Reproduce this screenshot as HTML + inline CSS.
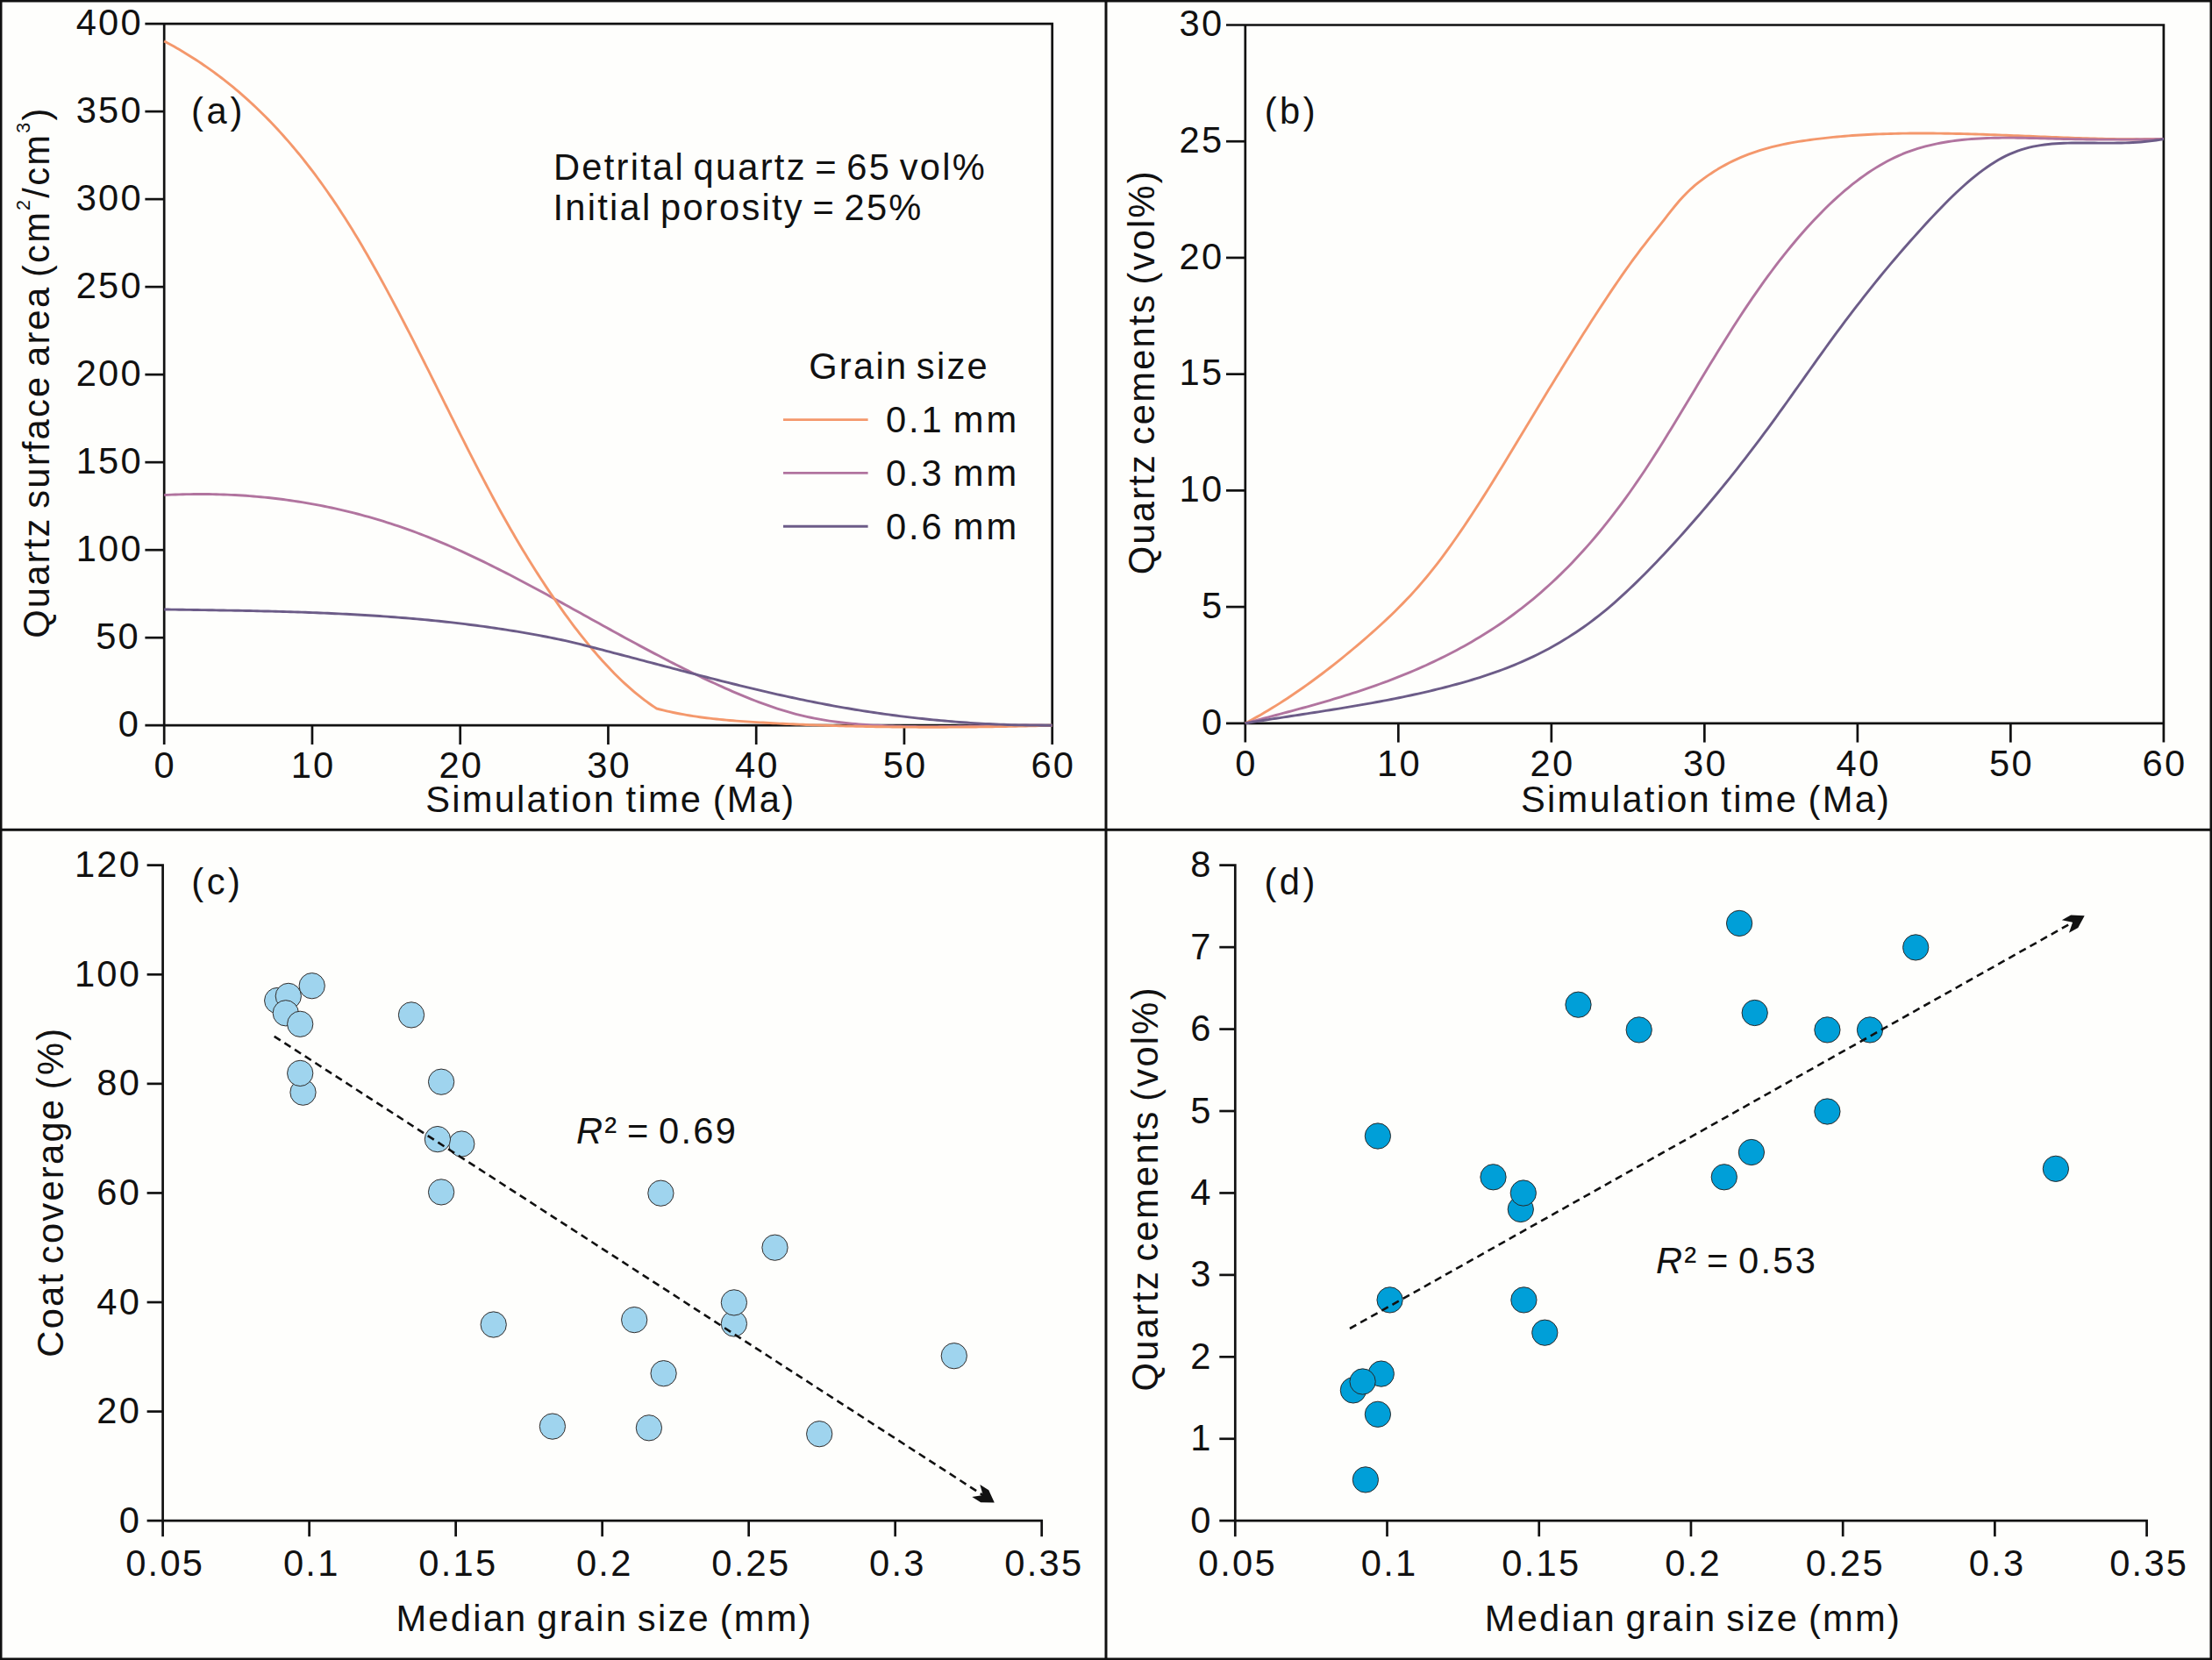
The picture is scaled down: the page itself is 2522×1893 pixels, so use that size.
<!DOCTYPE html>
<html lang="en"><head><meta charset="utf-8"><title>Quartz cementation vs grain size</title>
<style>html,body{margin:0;padding:0;background:#fefefc;}svg{display:block;}text{font-family:'Liberation Sans', Arial, Helvetica, sans-serif;fill:#111111;word-spacing:-4.3px;}</style>
</head><body>
<svg width="2522" height="1893" viewBox="0 0 2522 1893">
<rect x="0" y="0" width="2522" height="1893" fill="#fefefc"/>
<path d="M165.4 27.1 H1199.7 V849" fill="none" stroke="#111111" stroke-width="2.7"/>
<path d="M187.2 27.1 V849" fill="none" stroke="#111111" stroke-width="2.7"/>
<path d="M165.4 827.2 H1199.7" fill="none" stroke="#111111" stroke-width="2.7"/>
<line x1="165.4" y1="727.19" x2="187.2" y2="727.19" stroke="#111111" stroke-width="2.7" />
<line x1="165.4" y1="627.18" x2="187.2" y2="627.18" stroke="#111111" stroke-width="2.7" />
<line x1="165.4" y1="527.16" x2="187.2" y2="527.16" stroke="#111111" stroke-width="2.7" />
<line x1="165.4" y1="427.15" x2="187.2" y2="427.15" stroke="#111111" stroke-width="2.7" />
<line x1="165.4" y1="327.14" x2="187.2" y2="327.14" stroke="#111111" stroke-width="2.7" />
<line x1="165.4" y1="227.12" x2="187.2" y2="227.12" stroke="#111111" stroke-width="2.7" />
<line x1="165.4" y1="127.11" x2="187.2" y2="127.11" stroke="#111111" stroke-width="2.7" />
<line x1="355.95" y1="827.2" x2="355.95" y2="849" stroke="#111111" stroke-width="2.7" />
<line x1="524.7" y1="827.2" x2="524.7" y2="849" stroke="#111111" stroke-width="2.7" />
<line x1="693.45" y1="827.2" x2="693.45" y2="849" stroke="#111111" stroke-width="2.7" />
<line x1="862.2" y1="827.2" x2="862.2" y2="849" stroke="#111111" stroke-width="2.7" />
<line x1="1030.95" y1="827.2" x2="1030.95" y2="849" stroke="#111111" stroke-width="2.7" />
<path d="M187.2 564.57 L191.44 564.36 L195.67 564.17 L199.91 564.01 L204.15 563.87 L208.38 563.75 L212.62 563.66 L216.85 563.59 L221.09 563.54 L225.33 563.51 L229.56 563.51 L233.8 563.53 L238.04 563.57 L242.27 563.64 L246.51 563.73 L250.75 563.84 L254.98 563.98 L259.22 564.14 L263.46 564.33 L267.69 564.54 L271.93 564.77 L276.16 565.03 L280.4 565.31 L284.64 565.62 L288.87 565.96 L293.11 566.32 L297.35 566.7 L301.58 567.11 L305.82 567.55 L310.06 568.01 L314.29 568.49 L318.53 569.01 L322.76 569.55 L327 570.11 L331.24 570.7 L335.47 571.32 L339.71 571.97 L343.95 572.64 L348.18 573.34 L352.42 574.06 L356.66 574.81 L360.89 575.59 L365.13 576.4 L369.37 577.24 L373.6 578.1 L377.84 578.99 L382.07 579.91 L386.31 580.86 L390.55 581.83 L394.78 582.84 L399.02 583.87 L403.26 584.93 L407.49 586.02 L411.73 587.14 L415.97 588.29 L420.2 589.47 L424.44 590.67 L428.67 591.91 L432.91 593.17 L437.15 594.47 L441.38 595.8 L445.62 597.15 L449.86 598.54 L454.09 599.96 L458.33 601.4 L462.57 602.88 L466.8 604.39 L471.04 605.93 L475.28 607.5 L479.51 609.1 L483.75 610.73 L487.98 612.4 L492.22 614.09 L496.46 615.82 L500.69 617.57 L504.93 619.36 L509.17 621.17 L513.4 623.01 L517.64 624.87 L521.88 626.76 L526.11 628.68 L530.35 630.62 L534.58 632.59 L538.82 634.57 L543.06 636.58 L547.29 638.62 L551.53 640.67 L555.77 642.74 L560 644.83 L564.24 646.95 L568.48 649.08 L572.71 651.22 L576.95 653.39 L581.19 655.57 L585.42 657.76 L589.66 659.97 L593.89 662.19 L598.13 664.43 L602.37 666.68 L606.6 668.94 L610.84 671.21 L615.08 673.5 L619.31 675.79 L623.55 678.09 L627.79 680.4 L632.02 682.72 L636.26 685.04 L640.49 687.37 L644.73 689.71 L648.97 692.05 L653.2 694.4 L657.44 696.74 L661.68 699.09 L665.91 701.44 L670.15 703.79 L674.39 706.15 L678.62 708.5 L682.86 710.85 L687.1 713.19 L691.33 715.54 L695.57 717.88 L699.8 720.21 L704.04 722.54 L708.28 724.86 L712.51 727.18 L716.75 729.49 L720.99 731.79 L725.22 734.08 L729.46 736.36 L733.7 738.63 L737.93 740.89 L742.17 743.13 L746.41 745.37 L750.64 747.59 L754.88 749.8 L759.11 751.99 L763.35 754.17 L767.59 756.34 L771.82 758.49 L776.06 760.62 L780.3 762.74 L784.53 764.85 L788.77 766.93 L793.01 769 L797.24 771.04 L801.48 773.07 L805.71 775.09 L809.95 777.08 L814.19 779.05 L818.42 781 L822.66 782.92 L826.9 784.83 L831.13 786.7 L835.37 788.55 L839.61 790.38 L843.84 792.17 L848.08 793.92 L852.32 795.65 L856.55 797.34 L860.79 798.99 L865.02 800.61 L869.26 802.18 L873.5 803.71 L877.73 805.2 L881.97 806.65 L886.21 808.05 L890.44 809.39 L894.68 810.69 L898.92 811.94 L903.15 813.14 L907.39 814.28 L911.62 815.37 L915.86 816.39 L920.1 817.36 L924.33 818.27 L928.57 819.13 L932.81 819.94 L937.04 820.69 L941.28 821.4 L945.52 822.06 L949.75 822.67 L953.99 823.25 L958.23 823.78 L962.46 824.27 L966.7 824.73 L970.93 825.16 L975.17 825.55 L979.41 825.91 L983.64 826.24 L987.88 826.55 L992.12 826.83 L996.35 827.09 L1000.59 827.32 L1004.83 827.53 L1009.06 827.73 L1013.3 827.9 L1017.53 828.05 L1021.77 828.18 L1026.01 828.29 L1030.24 828.38 L1034.48 828.46 L1038.72 828.52 L1042.95 828.57 L1047.19 828.6 L1051.43 828.62 L1055.66 828.63 L1059.9 828.63 L1064.14 828.61 L1068.37 828.58 L1072.61 828.55 L1076.84 828.51 L1081.08 828.45 L1085.32 828.4 L1089.55 828.33 L1093.79 828.26 L1098.03 828.19 L1102.26 828.11 L1106.5 828.03 L1110.74 827.95 L1114.97 827.86 L1119.21 827.78 L1123.44 827.7 L1127.68 827.61 L1131.92 827.53 L1136.15 827.46 L1140.39 827.38 L1144.63 827.31 L1148.86 827.25 L1153.1 827.19 L1157.34 827.14 L1161.57 827.1 L1165.81 827.06 L1170.05 827.04 L1174.28 827.03 L1178.52 827.02 L1182.75 827.03 L1186.99 827.05 L1191.23 827.09 L1195.46 827.14 L1199.7 827.2" fill="none" stroke="#b1749f" stroke-width="2.9" stroke-linejoin="round" stroke-linecap="butt"/>
<path d="M187.2 46.9 L190.02 48.42 L192.84 49.95 L195.66 51.51 L198.49 53.1 L201.31 54.71 L204.13 56.34 L206.95 58 L209.77 59.69 L212.59 61.41 L215.41 63.15 L218.23 64.92 L221.06 66.72 L223.88 68.54 L226.7 70.4 L229.52 72.28 L232.34 74.2 L235.16 76.15 L237.98 78.12 L240.8 80.13 L243.63 82.18 L246.45 84.25 L249.27 86.36 L252.09 88.5 L254.91 90.67 L257.73 92.88 L260.55 95.12 L263.37 97.4 L266.2 99.72 L269.02 102.07 L271.84 104.45 L274.66 106.88 L277.48 109.34 L280.3 111.84 L283.12 114.38 L285.94 116.96 L288.77 119.58 L291.59 122.24 L294.41 124.93 L297.23 127.67 L300.05 130.45 L302.87 133.28 L305.69 136.14 L308.51 139.05 L311.34 142 L314.16 145 L316.98 148.04 L319.8 151.12 L322.62 154.25 L325.44 157.42 L328.26 160.64 L331.08 163.91 L333.91 167.22 L336.73 170.58 L339.55 173.99 L342.37 177.44 L345.19 180.95 L348.01 184.5 L350.83 188.1 L353.65 191.75 L356.48 195.45 L359.3 199.2 L362.12 203.01 L364.94 206.86 L367.76 210.77 L370.58 214.72 L373.4 218.73 L376.22 222.8 L379.05 226.91 L381.87 231.09 L384.69 235.31 L387.51 239.59 L390.33 243.93 L393.15 248.32 L395.97 252.76 L398.79 257.27 L401.62 261.83 L404.44 266.44 L407.26 271.11 L410.08 275.84 L412.9 280.61 L415.72 285.43 L418.54 290.31 L421.36 295.23 L424.19 300.19 L427.01 305.2 L429.83 310.26 L432.65 315.35 L435.47 320.48 L438.29 325.66 L441.11 330.87 L443.93 336.11 L446.76 341.39 L449.58 346.7 L452.4 352.05 L455.22 357.42 L458.04 362.82 L460.86 368.25 L463.68 373.71 L466.5 379.19 L469.33 384.69 L472.15 390.21 L474.97 395.75 L477.79 401.31 L480.61 406.89 L483.43 412.48 L486.25 418.09 L489.08 423.71 L491.9 429.34 L494.72 434.98 L497.54 440.63 L500.36 446.29 L503.18 451.94 L506 457.6 L508.82 463.26 L511.65 468.92 L514.47 474.57 L517.29 480.22 L520.11 485.86 L522.93 491.48 L525.75 497.1 L528.57 502.69 L531.39 508.27 L534.22 513.84 L537.04 519.38 L539.86 524.89 L542.68 530.39 L545.5 535.85 L548.32 541.28 L551.14 546.69 L553.96 552.05 L556.79 557.39 L559.61 562.68 L562.43 567.94 L565.25 573.15 L568.07 578.32 L570.89 583.44 L573.71 588.51 L576.53 593.54 L579.36 598.52 L582.18 603.45 L585 608.33 L587.82 613.16 L590.64 617.95 L593.46 622.7 L596.28 627.39 L599.1 632.04 L601.93 636.64 L604.75 641.2 L607.57 645.71 L610.39 650.18 L613.21 654.6 L616.03 658.97 L618.85 663.31 L621.67 667.59 L624.5 671.83 L627.32 676.03 L630.14 680.18 L632.96 684.29 L635.78 688.36 L638.6 692.38 L641.42 696.35 L644.24 700.28 L647.07 704.16 L649.89 708 L652.71 711.78 L655.53 715.52 L658.35 719.2 L661.17 722.84 L663.99 726.42 L666.81 729.96 L669.64 733.44 L672.46 736.87 L675.28 740.24 L678.1 743.56 L680.92 746.83 L683.74 750.04 L686.56 753.2 L689.38 756.3 L692.21 759.35 L695.03 762.34 L697.85 765.27 L700.67 768.15 L703.49 770.97 L706.31 773.73 L709.13 776.43 L711.95 779.08 L714.78 781.67 L717.6 784.19 L720.42 786.66 L723.24 789.07 L726.06 791.42 L728.88 793.71 L731.7 795.94 L734.52 798.1 L737.35 800.21 L740.17 802.25 L742.99 804.23 L745.81 806.14 L748.63 808 L752.42 808.98 L756.21 809.91 L760 810.8 L763.79 811.65 L767.58 812.46 L771.37 813.23 L775.16 813.97 L778.96 814.67 L782.75 815.34 L786.54 815.98 L790.33 816.58 L794.12 817.15 L797.91 817.7 L801.7 818.21 L805.49 818.7 L809.28 819.17 L813.07 819.61 L816.86 820.02 L820.65 820.42 L824.44 820.79 L828.23 821.14 L832.02 821.48 L835.81 821.8 L839.6 822.1 L843.39 822.38 L847.18 822.66 L850.97 822.92 L854.77 823.17 L858.56 823.41 L862.35 823.64 L866.14 823.86 L869.93 824.07 L873.72 824.28 L877.51 824.49 L881.3 824.69 L885.09 824.89 L888.88 825.08 L892.67 825.26 L896.46 825.44 L900.25 825.62 L904.04 825.79 L907.83 825.96 L911.62 826.13 L915.41 826.28 L919.2 826.44 L922.99 826.59 L926.78 826.73 L930.57 826.87 L934.37 827.01 L938.16 827.14 L941.95 827.27 L945.74 827.39 L949.53 827.51 L953.32 827.63 L957.11 827.74 L960.9 827.84 L964.69 827.95 L968.48 828.04 L972.27 828.14 L976.06 828.23 L979.85 828.31 L983.64 828.39 L987.43 828.47 L991.22 828.54 L995.01 828.61 L998.8 828.68 L1002.59 828.74 L1006.38 828.8 L1010.18 828.85 L1013.97 828.9 L1017.76 828.95 L1021.55 828.99 L1025.34 829.03 L1029.13 829.06 L1032.92 829.09 L1036.71 829.12 L1040.5 829.15 L1044.29 829.17 L1048.08 829.18 L1051.87 829.2 L1055.66 829.2 L1059.45 829.21 L1063.24 829.21 L1067.03 829.21 L1070.82 829.21 L1074.61 829.2 L1078.4 829.19 L1082.19 829.17 L1085.99 829.16 L1089.78 829.13 L1093.57 829.11 L1097.36 829.08 L1101.15 829.05 L1104.94 829.02 L1108.73 828.98 L1112.52 828.94 L1116.31 828.89 L1120.1 828.85 L1123.89 828.8 L1127.68 828.75 L1131.47 828.69 L1135.26 828.63 L1139.05 828.57 L1142.84 828.5 L1146.63 828.44 L1150.42 828.37 L1154.21 828.29 L1158 828.22 L1161.8 828.14 L1165.59 828.06 L1169.38 827.97 L1173.17 827.88 L1176.96 827.79 L1180.75 827.7 L1184.54 827.61 L1188.33 827.51 L1192.12 827.41 L1195.91 827.31 L1199.7 827.2" fill="none" stroke="#f4986c" stroke-width="2.9" stroke-linejoin="round" stroke-linecap="butt"/>
<path d="M187.2 694.98 L191.44 695.05 L195.67 695.11 L199.91 695.17 L204.15 695.23 L208.38 695.29 L212.62 695.35 L216.85 695.41 L221.09 695.48 L225.33 695.54 L229.56 695.6 L233.8 695.67 L238.04 695.73 L242.27 695.8 L246.51 695.87 L250.75 695.94 L254.98 696.01 L259.22 696.08 L263.46 696.15 L267.69 696.23 L271.93 696.31 L276.16 696.39 L280.4 696.48 L284.64 696.56 L288.87 696.65 L293.11 696.75 L297.35 696.84 L301.58 696.94 L305.82 697.05 L310.06 697.15 L314.29 697.26 L318.53 697.38 L322.76 697.5 L327 697.62 L331.24 697.75 L335.47 697.88 L339.71 698.02 L343.95 698.16 L348.18 698.31 L352.42 698.46 L356.66 698.62 L360.89 698.78 L365.13 698.95 L369.37 699.12 L373.6 699.31 L377.84 699.49 L382.07 699.69 L386.31 699.89 L390.55 700.09 L394.78 700.31 L399.02 700.53 L403.26 700.75 L407.49 700.99 L411.73 701.23 L415.97 701.48 L420.2 701.74 L424.44 702 L428.67 702.28 L432.91 702.56 L437.15 702.85 L441.38 703.15 L445.62 703.46 L449.86 703.77 L454.09 704.1 L458.33 704.43 L462.57 704.78 L466.8 705.13 L471.04 705.49 L475.28 705.86 L479.51 706.25 L483.75 706.64 L487.98 707.04 L492.22 707.46 L496.46 707.88 L500.69 708.31 L504.93 708.76 L509.17 709.22 L513.4 709.68 L517.64 710.16 L521.88 710.65 L526.11 711.15 L530.35 711.67 L534.58 712.19 L538.82 712.73 L543.06 713.28 L547.29 713.85 L551.53 714.42 L555.77 715.01 L560 715.61 L564.24 716.22 L568.48 716.85 L572.71 717.49 L576.95 718.15 L581.19 718.81 L585.42 719.49 L589.66 720.19 L593.89 720.9 L598.13 721.62 L602.37 722.36 L606.6 723.12 L610.84 723.88 L615.08 724.67 L619.31 725.46 L623.55 726.28 L627.79 727.11 L632.02 727.97 L636.26 728.85 L640.49 729.75 L644.73 730.67 L648.97 731.63 L653.2 732.61 L657.44 733.63 L661.68 734.67 L665.91 735.75 L670.15 736.83 L674.39 737.93 L678.62 739.02 L682.86 740.12 L687.1 741.22 L691.33 742.32 L695.57 743.42 L699.8 744.53 L704.04 745.63 L708.28 746.74 L712.51 747.85 L716.75 748.96 L720.99 750.08 L725.22 751.19 L729.46 752.3 L733.7 753.42 L737.93 754.53 L742.17 755.65 L746.41 756.76 L750.64 757.88 L754.88 758.99 L759.11 760.11 L763.35 761.22 L767.59 762.33 L771.82 763.44 L776.06 764.55 L780.3 765.66 L784.53 766.76 L788.77 767.86 L793.01 768.96 L797.24 770.06 L801.48 771.15 L805.71 772.24 L809.95 773.33 L814.19 774.41 L818.42 775.48 L822.66 776.55 L826.9 777.62 L831.13 778.68 L835.37 779.73 L839.61 780.78 L843.84 781.82 L848.08 782.85 L852.32 783.88 L856.55 784.9 L860.79 785.91 L865.02 786.91 L869.26 787.9 L873.5 788.89 L877.73 789.87 L881.97 790.84 L886.21 791.79 L890.44 792.74 L894.68 793.68 L898.92 794.61 L903.15 795.52 L907.39 796.43 L911.62 797.32 L915.86 798.2 L920.1 799.07 L924.33 799.93 L928.57 800.78 L932.81 801.61 L937.04 802.43 L941.28 803.23 L945.52 804.03 L949.75 804.81 L953.99 805.57 L958.23 806.33 L962.46 807.07 L966.7 807.79 L970.93 808.51 L975.17 809.21 L979.41 809.9 L983.64 810.57 L987.88 811.23 L992.12 811.88 L996.35 812.51 L1000.59 813.14 L1004.83 813.74 L1009.06 814.34 L1013.3 814.92 L1017.53 815.49 L1021.77 816.04 L1026.01 816.59 L1030.24 817.11 L1034.48 817.63 L1038.72 818.13 L1042.95 818.62 L1047.19 819.1 L1051.43 819.56 L1055.66 820.01 L1059.9 820.44 L1064.14 820.86 L1068.37 821.27 L1072.61 821.66 L1076.84 822.05 L1081.08 822.41 L1085.32 822.77 L1089.55 823.11 L1093.79 823.44 L1098.03 823.75 L1102.26 824.05 L1106.5 824.34 L1110.74 824.61 L1114.97 824.87 L1119.21 825.12 L1123.44 825.35 L1127.68 825.57 L1131.92 825.77 L1136.15 825.96 L1140.39 826.14 L1144.63 826.31 L1148.86 826.46 L1153.1 826.6 L1157.34 826.72 L1161.57 826.83 L1165.81 826.92 L1170.05 827.01 L1174.28 827.08 L1178.52 827.13 L1182.75 827.17 L1186.99 827.2 L1191.23 827.21 L1195.46 827.21 L1199.7 827.2" fill="none" stroke="#6c5c88" stroke-width="2.9" stroke-linejoin="round" stroke-linecap="butt"/>
<text x="160.05" y="839.9" text-anchor="end" font-size="41.67" letter-spacing="2.25" >0</text>
<text x="160.05" y="739.89" text-anchor="end" font-size="41.67" letter-spacing="2.25" >50</text>
<text x="162.95" y="639.88" text-anchor="end" font-size="41.67" letter-spacing="2.25" >100</text>
<text x="162.95" y="539.86" text-anchor="end" font-size="41.67" letter-spacing="2.25" >150</text>
<text x="162.95" y="439.85" text-anchor="end" font-size="41.67" letter-spacing="2.25" >200</text>
<text x="162.95" y="339.84" text-anchor="end" font-size="41.67" letter-spacing="2.25" >250</text>
<text x="162.95" y="239.82" text-anchor="end" font-size="41.67" letter-spacing="2.25" >300</text>
<text x="162.95" y="139.81" text-anchor="end" font-size="41.67" letter-spacing="2.25" >350</text>
<text x="162.95" y="39.8" text-anchor="end" font-size="41.67" letter-spacing="2.25" >400</text>
<text x="188.32" y="886.5" text-anchor="middle" font-size="41.67" letter-spacing="2.25" >0</text>
<text x="357.07" y="886.5" text-anchor="middle" font-size="41.67" letter-spacing="2.25" >10</text>
<text x="525.83" y="886.5" text-anchor="middle" font-size="41.67" letter-spacing="2.25" >20</text>
<text x="694.58" y="886.5" text-anchor="middle" font-size="41.67" letter-spacing="2.25" >30</text>
<text x="863.33" y="886.5" text-anchor="middle" font-size="41.67" letter-spacing="2.25" >40</text>
<text x="1032.08" y="886.5" text-anchor="middle" font-size="41.67" letter-spacing="2.25" >50</text>
<text x="1200.83" y="886.5" text-anchor="middle" font-size="41.67" letter-spacing="2.25" >60</text>
<text x="696.23" y="926.2" text-anchor="middle" font-size="41.67" letter-spacing="2.25" style="word-spacing:-2.4px">Simulation time (Ma)</text>
<text transform="translate(55.5 425.8) rotate(-90)" x="1.12" y="0" text-anchor="middle" font-size="41.67" letter-spacing="2.25" >Quartz surface area (cm<tspan font-size="21.5" dy="-21.5">2</tspan><tspan dy="21.5">/cm</tspan><tspan font-size="21.5" dy="-21.5">3</tspan><tspan dy="21.5">)</tspan></text>
<text x="218" y="140.5" text-anchor="start" font-size="41.67" letter-spacing="3.7" >(a)</text>
<text x="631" y="204.5" text-anchor="start" font-size="41.67" letter-spacing="2.25" >Detrital quartz = 65 vol%</text>
<text x="630.5" y="251" text-anchor="start" font-size="41.67" letter-spacing="2.25" >Initial porosity = 25%</text>
<text x="922.2" y="432.3" text-anchor="start" font-size="41.67" letter-spacing="2.25" >Grain size</text>
<line x1="893" y1="478.6" x2="989.6" y2="478.6" stroke="#f4986c" stroke-width="2.9" />
<text x="1010" y="493" text-anchor="start" font-size="41.67" letter-spacing="2.9" >0.1 mm</text>
<line x1="893" y1="539.4" x2="989.6" y2="539.4" stroke="#b1749f" stroke-width="2.9" />
<text x="1010" y="553.8" text-anchor="start" font-size="41.67" letter-spacing="2.9" >0.3 mm</text>
<line x1="893" y1="600.2" x2="989.6" y2="600.2" stroke="#6c5c88" stroke-width="2.9" />
<text x="1010" y="614.6" text-anchor="start" font-size="41.67" letter-spacing="2.9" >0.6 mm</text>
<path d="M1398 28.5 H2466.9 V846.6" fill="none" stroke="#111111" stroke-width="2.7"/>
<path d="M1419.8 28.5 V846.6" fill="none" stroke="#111111" stroke-width="2.7"/>
<path d="M1398 824.8 H2466.9" fill="none" stroke="#111111" stroke-width="2.7"/>
<line x1="1398" y1="692.08" x2="1419.8" y2="692.08" stroke="#111111" stroke-width="2.7" />
<line x1="1398" y1="559.37" x2="1419.8" y2="559.37" stroke="#111111" stroke-width="2.7" />
<line x1="1398" y1="426.65" x2="1419.8" y2="426.65" stroke="#111111" stroke-width="2.7" />
<line x1="1398" y1="293.93" x2="1419.8" y2="293.93" stroke="#111111" stroke-width="2.7" />
<line x1="1398" y1="161.22" x2="1419.8" y2="161.22" stroke="#111111" stroke-width="2.7" />
<line x1="1594.32" y1="824.8" x2="1594.32" y2="846.6" stroke="#111111" stroke-width="2.7" />
<line x1="1768.83" y1="824.8" x2="1768.83" y2="846.6" stroke="#111111" stroke-width="2.7" />
<line x1="1943.35" y1="824.8" x2="1943.35" y2="846.6" stroke="#111111" stroke-width="2.7" />
<line x1="2117.87" y1="824.8" x2="2117.87" y2="846.6" stroke="#111111" stroke-width="2.7" />
<line x1="2292.38" y1="824.8" x2="2292.38" y2="846.6" stroke="#111111" stroke-width="2.7" />
<path d="M1419.8 824.8 L1424.18 822.47 L1428.56 820.08 L1432.94 817.64 L1437.32 815.15 L1441.71 812.6 L1446.09 809.99 L1450.47 807.34 L1454.85 804.63 L1459.23 801.87 L1463.61 799.06 L1467.99 796.19 L1472.37 793.28 L1476.76 790.32 L1481.14 787.31 L1485.52 784.25 L1489.9 781.14 L1494.28 777.98 L1498.66 774.78 L1503.04 771.52 L1507.42 768.23 L1511.8 764.88 L1516.19 761.5 L1520.57 758.06 L1524.95 754.59 L1529.33 751.07 L1533.71 747.5 L1538.09 743.9 L1542.47 740.25 L1546.85 736.56 L1551.24 732.83 L1555.62 729.06 L1560 725.25 L1564.38 721.4 L1568.76 717.49 L1573.14 713.52 L1577.52 709.49 L1581.9 705.39 L1586.28 701.21 L1590.67 696.94 L1595.05 692.58 L1599.43 688.13 L1603.81 683.57 L1608.19 678.9 L1612.57 674.11 L1616.95 669.2 L1621.33 664.16 L1625.72 658.97 L1630.1 653.65 L1634.48 648.18 L1638.86 642.56 L1643.24 636.8 L1647.62 630.92 L1652 624.9 L1656.38 618.77 L1660.76 612.53 L1665.15 606.17 L1669.53 599.72 L1673.91 593.17 L1678.29 586.53 L1682.67 579.8 L1687.05 573 L1691.43 566.13 L1695.81 559.19 L1700.19 552.19 L1704.58 545.13 L1708.96 538.03 L1713.34 530.89 L1717.72 523.71 L1722.1 516.51 L1726.48 509.28 L1730.86 502.03 L1735.24 494.77 L1739.63 487.5 L1744.01 480.24 L1748.39 472.98 L1752.77 465.73 L1757.15 458.5 L1761.53 451.28 L1765.91 444.09 L1770.29 436.91 L1774.67 429.76 L1779.06 422.64 L1783.44 415.54 L1787.82 408.48 L1792.2 401.44 L1796.58 394.44 L1800.96 387.48 L1805.34 380.56 L1809.72 373.68 L1814.11 366.84 L1818.49 360.04 L1822.87 353.3 L1827.25 346.6 L1831.63 339.97 L1836.01 333.4 L1840.39 326.9 L1844.77 320.48 L1849.15 314.14 L1853.54 307.9 L1857.92 301.75 L1862.3 295.71 L1866.68 289.79 L1871.06 283.98 L1875.44 278.29 L1879.82 272.7 L1884.2 267.16 L1888.59 261.64 L1892.97 256.11 L1897.35 250.53 L1901.73 244.94 L1906.11 239.39 L1910.49 233.99 L1914.87 228.81 L1919.25 223.94 L1923.63 219.44 L1928.02 215.29 L1932.4 211.46 L1936.78 207.9 L1941.16 204.57 L1945.54 201.42 L1949.92 198.42 L1954.3 195.57 L1958.68 192.87 L1963.07 190.31 L1967.45 187.88 L1971.83 185.59 L1976.21 183.42 L1980.59 181.37 L1984.97 179.44 L1989.35 177.62 L1993.73 175.91 L1998.11 174.3 L2002.5 172.79 L2006.88 171.37 L2011.26 170.05 L2015.64 168.81 L2020.02 167.65 L2024.4 166.56 L2028.78 165.55 L2033.16 164.61 L2037.55 163.72 L2041.93 162.9 L2046.31 162.12 L2050.69 161.4 L2055.07 160.72 L2059.45 160.08 L2063.83 159.47 L2068.21 158.9 L2072.59 158.35 L2076.98 157.83 L2081.36 157.33 L2085.74 156.86 L2090.12 156.42 L2094.5 156 L2098.88 155.61 L2103.26 155.24 L2107.64 154.89 L2112.03 154.57 L2116.41 154.27 L2120.79 153.98 L2125.17 153.73 L2129.55 153.49 L2133.93 153.27 L2138.31 153.07 L2142.69 152.89 L2147.07 152.72 L2151.46 152.58 L2155.84 152.45 L2160.22 152.34 L2164.6 152.24 L2168.98 152.16 L2173.36 152.1 L2177.74 152.05 L2182.12 152.02 L2186.51 151.99 L2190.89 151.99 L2195.27 151.99 L2199.65 152.01 L2204.03 152.04 L2208.41 152.08 L2212.79 152.13 L2217.17 152.19 L2221.55 152.26 L2225.94 152.34 L2230.32 152.43 L2234.7 152.53 L2239.08 152.64 L2243.46 152.76 L2247.84 152.88 L2252.22 153.01 L2256.6 153.15 L2260.98 153.29 L2265.37 153.44 L2269.75 153.6 L2274.13 153.76 L2278.51 153.92 L2282.89 154.09 L2287.27 154.26 L2291.65 154.43 L2296.03 154.6 L2300.42 154.78 L2304.8 154.96 L2309.18 155.14 L2313.56 155.32 L2317.94 155.5 L2322.32 155.68 L2326.7 155.86 L2331.08 156.04 L2335.46 156.22 L2339.85 156.4 L2344.23 156.57 L2348.61 156.74 L2352.99 156.91 L2357.37 157.07 L2361.75 157.23 L2366.13 157.38 L2370.51 157.53 L2374.9 157.67 L2379.28 157.81 L2383.66 157.94 L2388.04 158.06 L2392.42 158.18 L2396.8 158.29 L2401.18 158.38 L2405.56 158.48 L2409.94 158.56 L2414.33 158.63 L2418.71 158.69 L2423.09 158.74 L2427.47 158.78 L2431.85 158.81 L2436.23 158.82 L2440.61 158.83 L2444.99 158.82 L2449.38 158.8 L2453.76 158.76 L2458.14 158.71 L2462.52 158.64 L2466.9 158.56" fill="none" stroke="#f4986c" stroke-width="2.9" stroke-linejoin="round" stroke-linecap="butt"/>
<path d="M1419.8 824.8 L1424.18 823.63 L1428.56 822.47 L1432.94 821.31 L1437.32 820.15 L1441.71 818.99 L1446.09 817.83 L1450.47 816.67 L1454.85 815.51 L1459.23 814.35 L1463.61 813.18 L1467.99 812.01 L1472.37 810.83 L1476.76 809.64 L1481.14 808.45 L1485.52 807.25 L1489.9 806.04 L1494.28 804.82 L1498.66 803.59 L1503.04 802.34 L1507.42 801.08 L1511.8 799.81 L1516.19 798.53 L1520.57 797.22 L1524.95 795.9 L1529.33 794.56 L1533.71 793.21 L1538.09 791.83 L1542.47 790.43 L1546.85 789.02 L1551.24 787.57 L1555.62 786.11 L1560 784.62 L1564.38 783.11 L1568.76 781.56 L1573.14 780 L1577.52 778.4 L1581.9 776.77 L1586.28 775.12 L1590.67 773.43 L1595.05 771.71 L1599.43 769.96 L1603.81 768.17 L1608.19 766.35 L1612.57 764.49 L1616.95 762.6 L1621.33 760.67 L1625.72 758.7 L1630.1 756.69 L1634.48 754.64 L1638.86 752.55 L1643.24 750.42 L1647.62 748.24 L1652 746.02 L1656.38 743.75 L1660.76 741.44 L1665.15 739.08 L1669.53 736.67 L1673.91 734.2 L1678.29 731.69 L1682.67 729.12 L1687.05 726.49 L1691.43 723.8 L1695.81 721.05 L1700.19 718.25 L1704.58 715.37 L1708.96 712.43 L1713.34 709.43 L1717.72 706.36 L1722.1 703.21 L1726.48 699.99 L1730.86 696.7 L1735.24 693.34 L1739.63 689.89 L1744.01 686.37 L1748.39 682.76 L1752.77 679.08 L1757.15 675.31 L1761.53 671.45 L1765.91 667.5 L1770.29 663.47 L1774.67 659.34 L1779.06 655.13 L1783.44 650.81 L1787.82 646.4 L1792.2 641.89 L1796.58 637.29 L1800.96 632.58 L1805.34 627.77 L1809.72 622.85 L1814.11 617.83 L1818.49 612.7 L1822.87 607.47 L1827.25 602.13 L1831.63 596.69 L1836.01 591.14 L1840.39 585.47 L1844.77 579.7 L1849.15 573.82 L1853.54 567.83 L1857.92 561.73 L1862.3 555.51 L1866.68 549.19 L1871.06 542.75 L1875.44 536.19 L1879.82 529.53 L1884.2 522.76 L1888.59 515.9 L1892.97 508.96 L1897.35 501.94 L1901.73 494.86 L1906.11 487.71 L1910.49 480.52 L1914.87 473.29 L1919.25 466.04 L1923.63 458.75 L1928.02 451.46 L1932.4 444.16 L1936.78 436.87 L1941.16 429.6 L1945.54 422.34 L1949.92 415.12 L1954.3 407.94 L1958.68 400.8 L1963.07 393.71 L1967.45 386.68 L1971.83 379.71 L1976.21 372.82 L1980.59 366 L1984.97 359.27 L1989.35 352.63 L1993.73 346.08 L1998.11 339.64 L2002.5 333.3 L2006.88 327.07 L2011.26 320.94 L2015.64 314.91 L2020.02 308.99 L2024.4 303.17 L2028.78 297.47 L2033.16 291.87 L2037.55 286.37 L2041.93 280.99 L2046.31 275.71 L2050.69 270.55 L2055.07 265.49 L2059.45 260.55 L2063.83 255.72 L2068.21 251 L2072.59 246.39 L2076.98 241.9 L2081.36 237.53 L2085.74 233.27 L2090.12 229.13 L2094.5 225.11 L2098.88 221.21 L2103.26 217.43 L2107.64 213.77 L2112.03 210.23 L2116.41 206.81 L2120.79 203.52 L2125.17 200.35 L2129.55 197.31 L2133.93 194.39 L2138.31 191.6 L2142.69 188.94 L2147.07 186.41 L2151.46 184.01 L2155.84 181.73 L2160.22 179.59 L2164.6 177.58 L2168.98 175.71 L2173.36 173.96 L2177.74 172.33 L2182.12 170.81 L2186.51 169.41 L2190.89 168.11 L2195.27 166.92 L2199.65 165.81 L2204.03 164.8 L2208.41 163.87 L2212.79 163.02 L2217.17 162.25 L2221.55 161.54 L2225.94 160.89 L2230.32 160.31 L2234.7 159.78 L2239.08 159.31 L2243.46 158.9 L2247.84 158.53 L2252.22 158.21 L2256.6 157.94 L2260.98 157.71 L2265.37 157.53 L2269.75 157.38 L2274.13 157.26 L2278.51 157.18 L2282.89 157.13 L2287.27 157.11 L2291.65 157.12 L2296.03 157.14 L2300.42 157.19 L2304.8 157.26 L2309.18 157.34 L2313.56 157.43 L2317.94 157.54 L2322.32 157.65 L2326.7 157.77 L2331.08 157.89 L2335.46 158.01 L2339.85 158.13 L2344.23 158.25 L2348.61 158.36 L2352.99 158.46 L2357.37 158.56 L2361.75 158.65 L2366.13 158.73 L2370.51 158.81 L2374.9 158.88 L2379.28 158.94 L2383.66 158.99 L2388.04 159.04 L2392.42 159.08 L2396.8 159.12 L2401.18 159.14 L2405.56 159.16 L2409.94 159.17 L2414.33 159.17 L2418.71 159.17 L2423.09 159.16 L2427.47 159.13 L2431.85 159.11 L2436.23 159.07 L2440.61 159.02 L2444.99 158.97 L2449.38 158.9 L2453.76 158.83 L2458.14 158.75 L2462.52 158.66 L2466.9 158.56" fill="none" stroke="#b1749f" stroke-width="2.9" stroke-linejoin="round" stroke-linecap="butt"/>
<path d="M1419.8 824.8 L1424.18 824.09 L1428.56 823.38 L1432.94 822.68 L1437.32 821.98 L1441.71 821.29 L1446.09 820.61 L1450.47 819.93 L1454.85 819.25 L1459.23 818.57 L1463.61 817.9 L1467.99 817.22 L1472.37 816.55 L1476.76 815.88 L1481.14 815.21 L1485.52 814.53 L1489.9 813.86 L1494.28 813.18 L1498.66 812.5 L1503.04 811.82 L1507.42 811.13 L1511.8 810.44 L1516.19 809.74 L1520.57 809.04 L1524.95 808.33 L1529.33 807.62 L1533.71 806.9 L1538.09 806.17 L1542.47 805.43 L1546.85 804.69 L1551.24 803.93 L1555.62 803.16 L1560 802.39 L1564.38 801.6 L1568.76 800.8 L1573.14 799.99 L1577.52 799.16 L1581.9 798.32 L1586.28 797.47 L1590.67 796.6 L1595.05 795.72 L1599.43 794.82 L1603.81 793.91 L1608.19 792.97 L1612.57 792.03 L1616.95 791.06 L1621.33 790.07 L1625.72 789.07 L1630.1 788.04 L1634.48 786.99 L1638.86 785.93 L1643.24 784.84 L1647.62 783.73 L1652 782.6 L1656.38 781.44 L1660.76 780.26 L1665.15 779.05 L1669.53 777.81 L1673.91 776.55 L1678.29 775.25 L1682.67 773.92 L1687.05 772.55 L1691.43 771.14 L1695.81 769.7 L1700.19 768.21 L1704.58 766.68 L1708.96 765.11 L1713.34 763.49 L1717.72 761.81 L1722.1 760.09 L1726.48 758.32 L1730.86 756.49 L1735.24 754.6 L1739.63 752.66 L1744.01 750.65 L1748.39 748.59 L1752.77 746.45 L1757.15 744.26 L1761.53 741.99 L1765.91 739.66 L1770.29 737.25 L1774.67 734.77 L1779.06 732.22 L1783.44 729.59 L1787.82 726.88 L1792.2 724.08 L1796.58 721.21 L1800.96 718.25 L1805.34 715.2 L1809.72 712.07 L1814.11 708.84 L1818.49 705.53 L1822.87 702.12 L1827.25 698.61 L1831.63 695.01 L1836.01 691.31 L1840.39 687.53 L1844.77 683.66 L1849.15 679.7 L1853.54 675.67 L1857.92 671.56 L1862.3 667.38 L1866.68 663.13 L1871.06 658.81 L1875.44 654.43 L1879.82 649.98 L1884.2 645.48 L1888.59 640.93 L1892.97 636.32 L1897.35 631.67 L1901.73 626.96 L1906.11 622.22 L1910.49 617.43 L1914.87 612.6 L1919.25 607.72 L1923.63 602.79 L1928.02 597.82 L1932.4 592.8 L1936.78 587.74 L1941.16 582.63 L1945.54 577.48 L1949.92 572.27 L1954.3 567.03 L1958.68 561.73 L1963.07 556.39 L1967.45 551 L1971.83 545.56 L1976.21 540.08 L1980.59 534.54 L1984.97 528.96 L1989.35 523.33 L1993.73 517.65 L1998.11 511.93 L2002.5 506.15 L2006.88 500.32 L2011.26 494.45 L2015.64 488.53 L2020.02 482.55 L2024.4 476.53 L2028.78 470.47 L2033.16 464.38 L2037.55 458.26 L2041.93 452.11 L2046.31 445.95 L2050.69 439.78 L2055.07 433.6 L2059.45 427.42 L2063.83 421.25 L2068.21 415.09 L2072.59 408.95 L2076.98 402.83 L2081.36 396.75 L2085.74 390.7 L2090.12 384.69 L2094.5 378.73 L2098.88 372.82 L2103.26 366.96 L2107.64 361.15 L2112.03 355.39 L2116.41 349.68 L2120.79 344.02 L2125.17 338.42 L2129.55 332.86 L2133.93 327.36 L2138.31 321.92 L2142.69 316.53 L2147.07 311.19 L2151.46 305.91 L2155.84 300.68 L2160.22 295.5 L2164.6 290.37 L2168.98 285.29 L2173.36 280.26 L2177.74 275.28 L2182.12 270.34 L2186.51 265.45 L2190.89 260.61 L2195.27 255.81 L2199.65 251.06 L2204.03 246.37 L2208.41 241.73 L2212.79 237.17 L2217.17 232.69 L2221.55 228.29 L2225.94 223.99 L2230.32 219.79 L2234.7 215.7 L2239.08 211.72 L2243.46 207.87 L2247.84 204.15 L2252.22 200.56 L2256.6 197.12 L2260.98 193.83 L2265.37 190.7 L2269.75 187.73 L2274.13 184.94 L2278.51 182.32 L2282.89 179.89 L2287.27 177.66 L2291.65 175.63 L2296.03 173.79 L2300.42 172.14 L2304.8 170.66 L2309.18 169.35 L2313.56 168.2 L2317.94 167.19 L2322.32 166.32 L2326.7 165.58 L2331.08 164.96 L2335.46 164.44 L2339.85 164.02 L2344.23 163.69 L2348.61 163.43 L2352.99 163.25 L2357.37 163.12 L2361.75 163.04 L2366.13 162.99 L2370.51 162.98 L2374.9 162.99 L2379.28 163.01 L2383.66 163.04 L2388.04 163.07 L2392.42 163.1 L2396.8 163.13 L2401.18 163.14 L2405.56 163.14 L2409.94 163.12 L2414.33 163.07 L2418.71 162.99 L2423.09 162.87 L2427.47 162.71 L2431.85 162.51 L2436.23 162.25 L2440.61 161.93 L2444.99 161.56 L2449.38 161.11 L2453.76 160.6 L2458.14 160 L2462.52 159.33 L2466.9 158.56" fill="none" stroke="#6c5c88" stroke-width="2.9" stroke-linejoin="round" stroke-linecap="butt"/>
<text x="1395.35" y="837.5" text-anchor="end" font-size="41.67" letter-spacing="2.25" >0</text>
<text x="1395.35" y="704.78" text-anchor="end" font-size="41.67" letter-spacing="2.25" >5</text>
<text x="1395.35" y="572.07" text-anchor="end" font-size="41.67" letter-spacing="2.25" >10</text>
<text x="1395.35" y="439.35" text-anchor="end" font-size="41.67" letter-spacing="2.25" >15</text>
<text x="1395.35" y="306.63" text-anchor="end" font-size="41.67" letter-spacing="2.25" >20</text>
<text x="1395.35" y="173.92" text-anchor="end" font-size="41.67" letter-spacing="2.25" >25</text>
<text x="1395.35" y="41.2" text-anchor="end" font-size="41.67" letter-spacing="2.25" >30</text>
<text x="1420.92" y="884.5" text-anchor="middle" font-size="41.67" letter-spacing="2.25" >0</text>
<text x="1595.44" y="884.5" text-anchor="middle" font-size="41.67" letter-spacing="2.25" >10</text>
<text x="1769.96" y="884.5" text-anchor="middle" font-size="41.67" letter-spacing="2.25" >20</text>
<text x="1944.47" y="884.5" text-anchor="middle" font-size="41.67" letter-spacing="2.25" >30</text>
<text x="2118.99" y="884.5" text-anchor="middle" font-size="41.67" letter-spacing="2.25" >40</text>
<text x="2293.51" y="884.5" text-anchor="middle" font-size="41.67" letter-spacing="2.25" >50</text>
<text x="2468.03" y="884.5" text-anchor="middle" font-size="41.67" letter-spacing="2.25" >60</text>
<text x="1945.12" y="926.4" text-anchor="middle" font-size="41.67" letter-spacing="2.25" style="word-spacing:-2.4px">Simulation time (Ma)</text>
<text transform="translate(1315.6 425.3) rotate(-90)" x="1.12" y="0" text-anchor="middle" font-size="41.67" letter-spacing="2.25" >Quartz cements (vol%)</text>
<text x="1441.7" y="141" text-anchor="start" font-size="41.67" letter-spacing="3.5" >(b)</text>
<circle cx="316.2" cy="1141" r="14.65" fill="#9fd4ee" stroke="#2a2320" stroke-width="0.95"/>
<circle cx="328.8" cy="1135.9" r="14.65" fill="#9fd4ee" stroke="#2a2320" stroke-width="0.95"/>
<circle cx="355.7" cy="1124.2" r="14.65" fill="#9fd4ee" stroke="#2a2320" stroke-width="0.95"/>
<circle cx="325.8" cy="1155.3" r="14.65" fill="#9fd4ee" stroke="#2a2320" stroke-width="0.95"/>
<circle cx="342.2" cy="1167.8" r="14.65" fill="#9fd4ee" stroke="#2a2320" stroke-width="0.95"/>
<circle cx="345.5" cy="1245.7" r="14.65" fill="#9fd4ee" stroke="#2a2320" stroke-width="0.95"/>
<circle cx="342.2" cy="1223.9" r="14.65" fill="#9fd4ee" stroke="#2a2320" stroke-width="0.95"/>
<circle cx="469" cy="1157.4" r="14.65" fill="#9fd4ee" stroke="#2a2320" stroke-width="0.95"/>
<circle cx="503.1" cy="1233.7" r="14.65" fill="#9fd4ee" stroke="#2a2320" stroke-width="0.95"/>
<circle cx="526.3" cy="1304.5" r="14.65" fill="#9fd4ee" stroke="#2a2320" stroke-width="0.95"/>
<circle cx="498.9" cy="1299.1" r="14.65" fill="#9fd4ee" stroke="#2a2320" stroke-width="0.95"/>
<circle cx="503.1" cy="1359.4" r="14.65" fill="#9fd4ee" stroke="#2a2320" stroke-width="0.95"/>
<circle cx="562.7" cy="1510.5" r="14.65" fill="#9fd4ee" stroke="#2a2320" stroke-width="0.95"/>
<circle cx="629.9" cy="1626.6" r="14.65" fill="#9fd4ee" stroke="#2a2320" stroke-width="0.95"/>
<circle cx="753.4" cy="1360.7" r="14.65" fill="#9fd4ee" stroke="#2a2320" stroke-width="0.95"/>
<circle cx="883.5" cy="1422.7" r="14.65" fill="#9fd4ee" stroke="#2a2320" stroke-width="0.95"/>
<circle cx="836.9" cy="1509.5" r="14.65" fill="#9fd4ee" stroke="#2a2320" stroke-width="0.95"/>
<circle cx="836.9" cy="1485.4" r="14.65" fill="#9fd4ee" stroke="#2a2320" stroke-width="0.95"/>
<circle cx="723.2" cy="1505.1" r="14.65" fill="#9fd4ee" stroke="#2a2320" stroke-width="0.95"/>
<circle cx="756.6" cy="1566.2" r="14.65" fill="#9fd4ee" stroke="#2a2320" stroke-width="0.95"/>
<circle cx="1087.8" cy="1546.2" r="14.65" fill="#9fd4ee" stroke="#2a2320" stroke-width="0.95"/>
<circle cx="739.9" cy="1628.3" r="14.65" fill="#9fd4ee" stroke="#2a2320" stroke-width="0.95"/>
<circle cx="934.2" cy="1635.2" r="14.65" fill="#9fd4ee" stroke="#2a2320" stroke-width="0.95"/>
<line x1="312.7" y1="1181.8" x2="1121.63" y2="1705.62" stroke="#111111" stroke-width="2.6" stroke-dasharray="8.4 5.5"/>
<path d="M1133.8 1713.5 L1127.26 1699.32 L1117.33 1692.94 L1120.71 1705.02 L1108.3 1706.88 L1118.18 1713.33 Z" fill="#111111"/>
<path d="M167.6 986.7 H185.6 V1752.2" fill="none" stroke="#111111" stroke-width="2.7"/>
<path d="M167.6 1734.2 H1187.7 V1752.2" fill="none" stroke="#111111" stroke-width="2.7"/>
<line x1="167.6" y1="1609.62" x2="185.6" y2="1609.62" stroke="#111111" stroke-width="2.7" />
<line x1="167.6" y1="1485.03" x2="185.6" y2="1485.03" stroke="#111111" stroke-width="2.7" />
<line x1="167.6" y1="1360.45" x2="185.6" y2="1360.45" stroke="#111111" stroke-width="2.7" />
<line x1="167.6" y1="1235.87" x2="185.6" y2="1235.87" stroke="#111111" stroke-width="2.7" />
<line x1="167.6" y1="1111.28" x2="185.6" y2="1111.28" stroke="#111111" stroke-width="2.7" />
<line x1="352.62" y1="1734.2" x2="352.62" y2="1752.2" stroke="#111111" stroke-width="2.7" />
<line x1="519.63" y1="1734.2" x2="519.63" y2="1752.2" stroke="#111111" stroke-width="2.7" />
<line x1="686.65" y1="1734.2" x2="686.65" y2="1752.2" stroke="#111111" stroke-width="2.7" />
<line x1="853.67" y1="1734.2" x2="853.67" y2="1752.2" stroke="#111111" stroke-width="2.7" />
<line x1="1020.68" y1="1734.2" x2="1020.68" y2="1752.2" stroke="#111111" stroke-width="2.7" />
<text x="161.15" y="1747.7" text-anchor="end" font-size="41.67" letter-spacing="2.25" >0</text>
<text x="161.15" y="1623.12" text-anchor="end" font-size="41.67" letter-spacing="2.25" >20</text>
<text x="161.15" y="1498.53" text-anchor="end" font-size="41.67" letter-spacing="2.25" >40</text>
<text x="161.15" y="1373.95" text-anchor="end" font-size="41.67" letter-spacing="2.25" >60</text>
<text x="161.15" y="1249.37" text-anchor="end" font-size="41.67" letter-spacing="2.25" >80</text>
<text x="161.15" y="1124.78" text-anchor="end" font-size="41.67" letter-spacing="2.25" >100</text>
<text x="161.15" y="1000.2" text-anchor="end" font-size="41.67" letter-spacing="2.25" >120</text>
<text x="188.22" y="1796.5" text-anchor="middle" font-size="41.67" letter-spacing="2.25" >0.05</text>
<text x="355.24" y="1796.5" text-anchor="middle" font-size="41.67" letter-spacing="2.25" >0.1</text>
<text x="522.26" y="1796.5" text-anchor="middle" font-size="41.67" letter-spacing="2.25" >0.15</text>
<text x="689.28" y="1796.5" text-anchor="middle" font-size="41.67" letter-spacing="2.25" >0.2</text>
<text x="856.29" y="1796.5" text-anchor="middle" font-size="41.67" letter-spacing="2.25" >0.25</text>
<text x="1023.31" y="1796.5" text-anchor="middle" font-size="41.67" letter-spacing="2.25" >0.3</text>
<text x="1190.33" y="1796.5" text-anchor="middle" font-size="41.67" letter-spacing="2.25" >0.35</text>
<text x="689.12" y="1860" text-anchor="middle" font-size="41.67" letter-spacing="2.25" style="word-spacing:-3.1px">Median grain size (mm)</text>
<text transform="translate(71.6 1360.3) rotate(-90)" x="1.12" y="0" text-anchor="middle" font-size="41.67" letter-spacing="2.25" >Coat coverage (%)</text>
<text x="218.2" y="1020.1" text-anchor="start" font-size="41.67" letter-spacing="3.6" >(c)</text>
<text x="657" y="1303.7" text-anchor="start" font-size="41.67" letter-spacing="2.25" ><tspan font-style="italic">R</tspan>² = 0.69</text>
<circle cx="1570.9" cy="1295.5" r="14.65" fill="#009fd8" stroke="#2a2320" stroke-width="0.95"/>
<circle cx="1702.5" cy="1342.3" r="14.65" fill="#009fd8" stroke="#2a2320" stroke-width="0.95"/>
<circle cx="1733.8" cy="1379" r="14.65" fill="#009fd8" stroke="#2a2320" stroke-width="0.95"/>
<circle cx="1736.8" cy="1360.5" r="14.65" fill="#009fd8" stroke="#2a2320" stroke-width="0.95"/>
<circle cx="1799.5" cy="1145.7" r="14.65" fill="#009fd8" stroke="#2a2320" stroke-width="0.95"/>
<circle cx="1868.7" cy="1174.4" r="14.65" fill="#009fd8" stroke="#2a2320" stroke-width="0.95"/>
<circle cx="1584.6" cy="1482.4" r="14.65" fill="#009fd8" stroke="#2a2320" stroke-width="0.95"/>
<circle cx="1737.4" cy="1482.4" r="14.65" fill="#009fd8" stroke="#2a2320" stroke-width="0.95"/>
<circle cx="1761.3" cy="1519.7" r="14.65" fill="#009fd8" stroke="#2a2320" stroke-width="0.95"/>
<circle cx="1574.8" cy="1566.6" r="14.65" fill="#009fd8" stroke="#2a2320" stroke-width="0.95"/>
<circle cx="1542.9" cy="1585.4" r="14.65" fill="#009fd8" stroke="#2a2320" stroke-width="0.95"/>
<circle cx="1553.6" cy="1575.5" r="14.65" fill="#009fd8" stroke="#2a2320" stroke-width="0.95"/>
<circle cx="1570.9" cy="1612.8" r="14.65" fill="#009fd8" stroke="#2a2320" stroke-width="0.95"/>
<circle cx="1556.9" cy="1687.4" r="14.65" fill="#009fd8" stroke="#2a2320" stroke-width="0.95"/>
<circle cx="1983.1" cy="1052.9" r="14.65" fill="#009fd8" stroke="#2a2320" stroke-width="0.95"/>
<circle cx="2184.2" cy="1080.4" r="14.65" fill="#009fd8" stroke="#2a2320" stroke-width="0.95"/>
<circle cx="2000.7" cy="1155" r="14.65" fill="#009fd8" stroke="#2a2320" stroke-width="0.95"/>
<circle cx="2083.4" cy="1174.4" r="14.65" fill="#009fd8" stroke="#2a2320" stroke-width="0.95"/>
<circle cx="2132" cy="1174.4" r="14.65" fill="#009fd8" stroke="#2a2320" stroke-width="0.95"/>
<circle cx="2083.4" cy="1267.5" r="14.65" fill="#009fd8" stroke="#2a2320" stroke-width="0.95"/>
<circle cx="1996.9" cy="1314" r="14.65" fill="#009fd8" stroke="#2a2320" stroke-width="0.95"/>
<circle cx="1965.8" cy="1342.3" r="14.65" fill="#009fd8" stroke="#2a2320" stroke-width="0.95"/>
<circle cx="2343.9" cy="1332.8" r="14.65" fill="#009fd8" stroke="#2a2320" stroke-width="0.95"/>
<line x1="1539" y1="1515" x2="2364.06" y2="1051.3" stroke="#111111" stroke-width="2.6" stroke-dasharray="8.4 5.5"/>
<path d="M2376.7 1044.2 L2361.1 1043.39 L2350.84 1049.21 L2363.1 1051.84 L2358.97 1063.68 L2369.28 1057.95 Z" fill="#111111"/>
<path d="M1390.3 986.7 H1408.3 V1752.2" fill="none" stroke="#111111" stroke-width="2.7"/>
<path d="M1390.3 1734.2 H2447.6 V1752.2" fill="none" stroke="#111111" stroke-width="2.7"/>
<line x1="1390.3" y1="1640.76" x2="1408.3" y2="1640.76" stroke="#111111" stroke-width="2.7" />
<line x1="1390.3" y1="1547.33" x2="1408.3" y2="1547.33" stroke="#111111" stroke-width="2.7" />
<line x1="1390.3" y1="1453.89" x2="1408.3" y2="1453.89" stroke="#111111" stroke-width="2.7" />
<line x1="1390.3" y1="1360.45" x2="1408.3" y2="1360.45" stroke="#111111" stroke-width="2.7" />
<line x1="1390.3" y1="1267.01" x2="1408.3" y2="1267.01" stroke="#111111" stroke-width="2.7" />
<line x1="1390.3" y1="1173.58" x2="1408.3" y2="1173.58" stroke="#111111" stroke-width="2.7" />
<line x1="1390.3" y1="1080.14" x2="1408.3" y2="1080.14" stroke="#111111" stroke-width="2.7" />
<line x1="1581.52" y1="1734.2" x2="1581.52" y2="1752.2" stroke="#111111" stroke-width="2.7" />
<line x1="1754.73" y1="1734.2" x2="1754.73" y2="1752.2" stroke="#111111" stroke-width="2.7" />
<line x1="1927.95" y1="1734.2" x2="1927.95" y2="1752.2" stroke="#111111" stroke-width="2.7" />
<line x1="2101.17" y1="1734.2" x2="2101.17" y2="1752.2" stroke="#111111" stroke-width="2.7" />
<line x1="2274.38" y1="1734.2" x2="2274.38" y2="1752.2" stroke="#111111" stroke-width="2.7" />
<text x="1382.75" y="1747.7" text-anchor="end" font-size="41.67" letter-spacing="2.25" >0</text>
<text x="1382.75" y="1654.26" text-anchor="end" font-size="41.67" letter-spacing="2.25" >1</text>
<text x="1382.75" y="1560.83" text-anchor="end" font-size="41.67" letter-spacing="2.25" >2</text>
<text x="1382.75" y="1467.39" text-anchor="end" font-size="41.67" letter-spacing="2.25" >3</text>
<text x="1382.75" y="1373.95" text-anchor="end" font-size="41.67" letter-spacing="2.25" >4</text>
<text x="1382.75" y="1280.51" text-anchor="end" font-size="41.67" letter-spacing="2.25" >5</text>
<text x="1382.75" y="1187.08" text-anchor="end" font-size="41.67" letter-spacing="2.25" >6</text>
<text x="1382.75" y="1093.64" text-anchor="end" font-size="41.67" letter-spacing="2.25" >7</text>
<text x="1382.75" y="1000.2" text-anchor="end" font-size="41.67" letter-spacing="2.25" >8</text>
<text x="1410.92" y="1796.5" text-anchor="middle" font-size="41.67" letter-spacing="2.25" >0.05</text>
<text x="1584.14" y="1796.5" text-anchor="middle" font-size="41.67" letter-spacing="2.25" >0.1</text>
<text x="1757.36" y="1796.5" text-anchor="middle" font-size="41.67" letter-spacing="2.25" >0.15</text>
<text x="1930.58" y="1796.5" text-anchor="middle" font-size="41.67" letter-spacing="2.25" >0.2</text>
<text x="2103.79" y="1796.5" text-anchor="middle" font-size="41.67" letter-spacing="2.25" >0.25</text>
<text x="2277.01" y="1796.5" text-anchor="middle" font-size="41.67" letter-spacing="2.25" >0.3</text>
<text x="2450.22" y="1796.5" text-anchor="middle" font-size="41.67" letter-spacing="2.25" >0.35</text>
<text x="1930.42" y="1860" text-anchor="middle" font-size="41.67" letter-spacing="2.25" style="word-spacing:-3.1px">Median grain size (mm)</text>
<text transform="translate(1319.7 1356.5) rotate(-90)" x="1.12" y="0" text-anchor="middle" font-size="41.67" letter-spacing="2.25" >Quartz cements (vol%)</text>
<text x="1441.4" y="1020.1" text-anchor="start" font-size="41.67" letter-spacing="3.5" >(d)</text>
<text x="1888" y="1451.7" text-anchor="start" font-size="41.67" letter-spacing="2.25" ><tspan font-style="italic">R</tspan>² = 0.53</text>
<line x1="1261" y1="0" x2="1261" y2="1893" stroke="#111111" stroke-width="3.0" />
<line x1="0" y1="946.3" x2="2522" y2="946.3" stroke="#111111" stroke-width="3.0" />
<rect x="1.25" y="1.25" width="2519.5" height="1890.5" fill="none" stroke="#111111" stroke-width="2.5"/>
</svg></body></html>
